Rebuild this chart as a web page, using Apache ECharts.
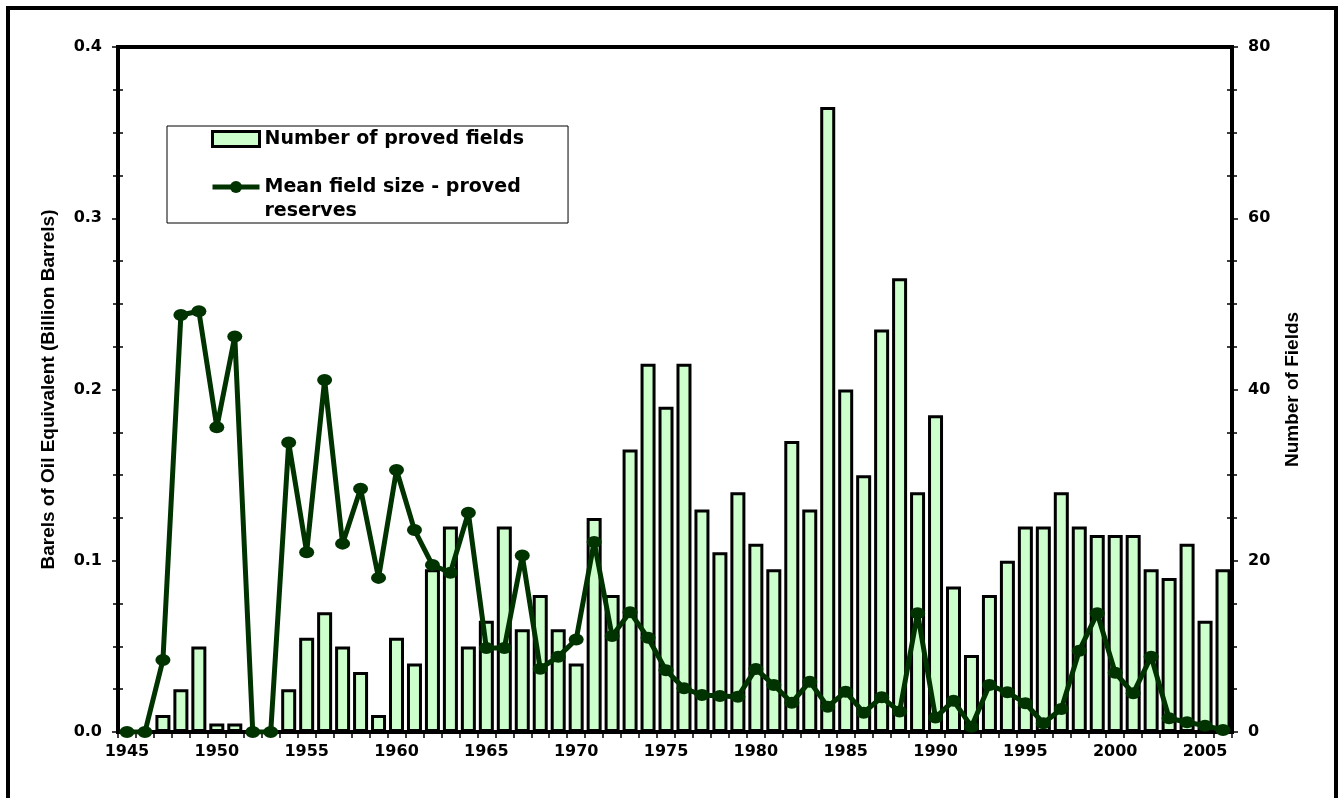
<!DOCTYPE html>
<html>
<head>
<meta charset="utf-8">
<script src="https://cdn.jsdelivr.net/npm/echarts@6/dist/echarts.min.js"></script>
<style>
html,body{margin:0;padding:0;background:#fff;}
#chart{width:1343px;height:798px;}
</style>
</head>
<body>
<div id="chart"></div>
<script>
var years = [];
for (var y = 1945; y <= 2006; y++) years.push(String(y));

var provedFields = [0, 0, 2, 5, 10, 1, 1, 0, 0, 5,
  11, 14, 10, 7, 2, 11, 8, 19, 24, 10,
  13, 24, 12, 16, 12, 8, 25, 16, 33, 43,
  38, 43, 26, 21, 28, 22, 19, 34, 26, 73,
  40, 30, 47, 53, 28, 37, 17, 9, 16, 20,
  24, 24, 28, 24, 23, 23, 23, 19, 18, 22,
  13, 19];

var meanFieldSize = [0, 0, 0.042, 0.2435, 0.2457, 0.178, 0.231, 0, 0, 0.169,
  0.105, 0.2055, 0.110, 0.142, 0.090, 0.153, 0.118, 0.0975, 0.093, 0.128,
  0.049, 0.049, 0.103, 0.037, 0.044, 0.054, 0.111, 0.056, 0.070, 0.055,
  0.036, 0.0255, 0.0216, 0.021, 0.0206, 0.0368, 0.0274, 0.0171, 0.0294, 0.0148,
  0.0235, 0.0113, 0.0203, 0.0119, 0.0693, 0.0084, 0.0183, 0.0031, 0.0274, 0.0232,
  0.0168, 0.0051, 0.0134, 0.0475, 0.0693, 0.0346, 0.0226, 0.044, 0.008, 0.0057,
  0.0037, 0.0012];

var leftTicks = [0, 0.4, 0.1];
var rightTicks = [0, 80, 20];

var seriesBarName = 'Number of proved fields';
var seriesLineName = 'Mean field size - proved reserves';
var leftAxisTitle = 'Barels of Oil Equivalent (Billion Barrels)';
var rightAxisTitle = 'Number of Fields';

var tickFont = {fontFamily: 'DejaVu Sans', fontWeight: 'bold', fontSize: 16, color: '#000'};
var titleFont = {fontFamily: 'Liberation Sans', fontWeight: 'bold', fontSize: 19, color: '#000'};
var legendFont = {fontFamily: 'DejaVu Sans', fontWeight: 'bold', fontSize: 19, color: '#000', lineHeight: 24};

var chart = echarts.init(document.getElementById('chart'), null, {renderer: 'canvas'});
chart.setOption({
  animation: false,
  backgroundColor: '#fff',
  graphic: [{
    type: 'rect',
    shape: {x: 8, y: 8, width: 1328, height: 830},
    style: {fill: 'none', stroke: '#000', lineWidth: 4},
    silent: true, z: -1
  }],
  grid: {
    left: 118, right: 111, top: 47, bottom: 66,
    show: true, borderColor: '#000', borderWidth: 4, backgroundColor: 'transparent'
  },
  legend: {
    orient: 'vertical',
    left: 167, top: 126,
    padding: [1, 44, 0, 43],
    itemGap: 0,
    itemWidth: 47, itemHeight: 15,
    backgroundColor: '#fff',
    borderColor: '#000', borderWidth: 1,
    data: [
      {name: seriesBarName, icon: 'rect',
       itemStyle: {color: '#ccffcc', borderColor: '#000', borderWidth: 3}},
      {name: seriesLineName,
       itemStyle: {color: '#003300'}, lineStyle: {color: '#003300', width: 5}}
    ],
    formatter: function (name) {
      return name === seriesLineName ? '\nMean field size - proved\nreserves' : name;
    },
    textStyle: legendFont
  },
  xAxis: {
    type: 'category',
    data: years,
    boundaryGap: true,
    axisLine: {lineStyle: {color: '#000', width: 4}},
    axisTick: {show: true, interval: 0, length: 6, lineStyle: {color: '#000', width: 1.5}},
    axisLabel: Object.assign({interval: 4, margin: 12}, tickFont),
    splitLine: {show: false}
  },
  yAxis: [{
    type: 'value', position: 'left',
    min: leftTicks[0], max: leftTicks[1], interval: leftTicks[2],
    name: leftAxisTitle, nameLocation: 'middle', nameGap: 60, nameRotate: 90,
    nameTextStyle: titleFont,
    axisLine: {show: true, lineStyle: {color: '#000', width: 4}},
    axisTick: {show: true, length: 6, lineStyle: {color: '#000', width: 1.5}},
    minorTick: {show: true, splitNumber: 4, length: 5, lineStyle: {color: '#000', width: 1.5}},
    axisLabel: Object.assign({margin: 16, formatter: function (v) { return v.toFixed(1); }}, tickFont),
    splitLine: {show: false}
  }, {
    type: 'value', position: 'right',
    min: rightTicks[0], max: rightTicks[1], interval: rightTicks[2],
    name: rightAxisTitle, nameLocation: 'middle', nameGap: 51, nameRotate: 90,
    nameTextStyle: titleFont,
    axisLine: {show: true, lineStyle: {color: '#000', width: 4}},
    axisTick: {show: true, length: 6, lineStyle: {color: '#000', width: 1.5}},
    minorTick: {show: true, splitNumber: 4, length: 5, lineStyle: {color: '#000', width: 1.5}},
    axisLabel: Object.assign({margin: 16}, tickFont),
    splitLine: {show: false}
  }, {
    type: 'value', position: 'left',
    min: leftTicks[0], max: leftTicks[1], interval: leftTicks[2],
    axisLine: {show: false},
    axisTick: {show: false, inside: true},
    minorTick: {show: true, splitNumber: 4, length: 5, lineStyle: {color: '#000', width: 1.5}},
    axisLabel: {show: false},
    splitLine: {show: false}
  }, {
    type: 'value', position: 'right',
    min: rightTicks[0], max: rightTicks[1], interval: rightTicks[2],
    axisLine: {show: false},
    axisTick: {show: false, inside: true},
    minorTick: {show: true, splitNumber: 4, length: 5, lineStyle: {color: '#000', width: 1.5}},
    axisLabel: {show: false},
    splitLine: {show: false}
  }],
  series: [{
    name: seriesBarName,
    type: 'bar',
    yAxisIndex: 1,
    data: provedFields,
    barWidth: 15,
    itemStyle: {color: '#ccffcc', borderColor: '#000', borderWidth: 3},
    z: 2
  }, {
    name: seriesLineName,
    type: 'line',
    yAxisIndex: 0,
    data: meanFieldSize,
    symbol: 'circle',
    symbolSize: [15, 12],
    showAllSymbol: true,
    lineStyle: {color: '#003300', width: 5},
    itemStyle: {color: '#003300'},
    z: 3
  }]
});
</script>
</body>
</html>
